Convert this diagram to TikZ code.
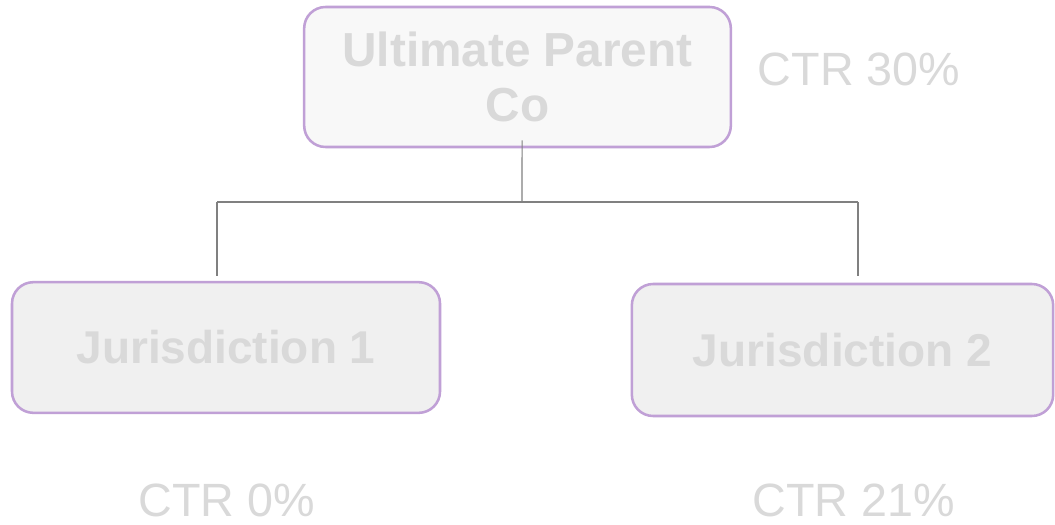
\documentclass[tikz,border=0pt]{standalone}
\usepackage{fontspec}
\setmainfont{Liberation Sans}
\definecolor{boxline}{RGB}{192,160,214}
\definecolor{topfill}{RGB}{248,248,248}
\definecolor{boxfill}{RGB}{240,240,240}
\definecolor{labelgrey}{RGB}{217,217,217}
\definecolor{linkgrey}{RGB}{128,128,128}

\begin{document}
\begin{tikzpicture}[x=0.75pt, y=-0.75pt,
    entity/.style={draw=boxline, line width=1.9pt, rounded corners=16pt,
      fill=boxfill, text=labelgrey, align=center, inner sep=0pt,
      font=\bfseries\fontsize{34.5}{41}\selectfont},
    rate/.style={text=labelgrey, anchor=base, inner sep=0pt,
      font=\fontsize{35}{42}\selectfont},
    link/.style={draw=linkgrey, line width=0.8pt},
  ]
    \useasboundingbox[fill=white] (0, 0) rectangle (1055, 524);

    \node[entity, fill=topfill, minimum width=320pt, minimum height=105pt,
      font=\bfseries\fontsize{35.8}{41}\selectfont]
      (parent) at (517.5, 77) {Ultimate Parent\\Co};
    \node[entity, minimum width=321pt, minimum height=98pt]
      (juris1) at (226, 347.5) {Jurisdiction 1};
    \node[entity, minimum width=316pt, minimum height=99pt]
      (juris2) at (842.5, 350) {Jurisdiction 2};

    \node[rate] (rateParent) at (859, 86)  {CTR 30\%};
    \node[rate] (rate1)      at (226.5, 516) {CTR 0\%};
    \node[rate] (rate2)      at (853.5, 516) {CTR 21\%};

    % bus between parent and subsidiaries
    \coordinate (bus)  at (522, 202);
    \coordinate (busL) at (217, 202);
    \coordinate (busR) at (858, 202);

    \draw[link] ([xshift=3.4pt, yshift=6pt]parent.south) -- (bus);
    \draw[link] (busL) -- (busR);
    \draw[link, shorten >=3.8pt] (busL) -- (busL |- juris1.north);
    \draw[link, shorten >=5pt] (busR) -- (busR |- juris2.north);
  \end{tikzpicture}
\end{document}
